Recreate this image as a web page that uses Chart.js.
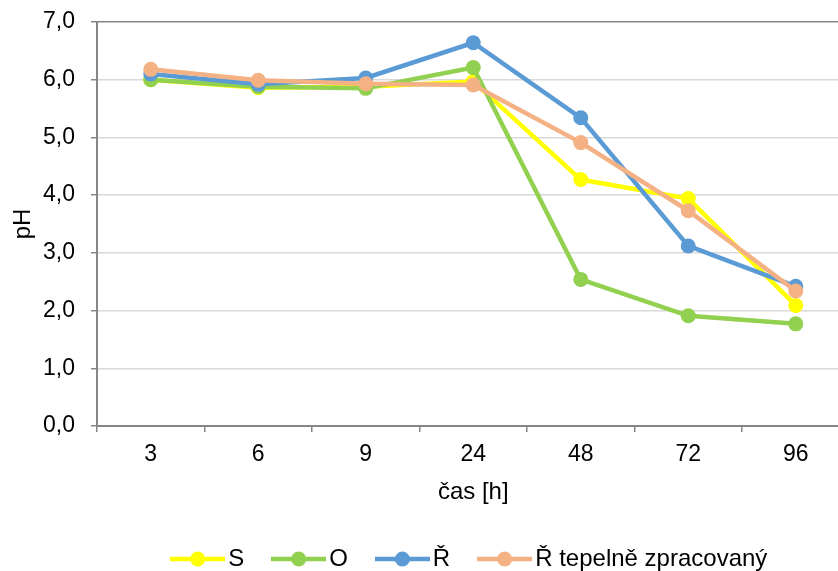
<!DOCTYPE html>
<html>
<head>
<meta charset="utf-8">
<script src="https://cdn.jsdelivr.net/npm/chart.js@4"></script>
<style>
  html, body { margin: 0; padding: 0; background: #fff; overflow: hidden; }
  #wrap { width: 870px; height: 571px; }
</style>
</head>
<body>
<div id="wrap"><canvas id="phChart" width="870" height="571"></canvas></div>
<script>
const labels = ["3", "6", "9", "24", "48", "72", "96"];
const seriesNames = ["S", "O", "Ř", "Ř tepelně zpracovaný"];
const valuesS = [6.0, 5.86, 5.88, 5.97, 4.27, 3.94, 2.09];
const valuesO = [6.0, 5.88, 5.85, 6.21, 2.54, 1.91, 1.77];
const valuesR = [6.1, 5.92, 6.03, 6.64, 5.34, 3.12, 2.42];
const valuesRT = [6.18, 5.99, 5.93, 5.91, 4.91, 3.73, 2.34];
const colors = ["#ffff00", "#92d050", "#5b9bd5", "#f4b183"];

const fontFamily = "'Liberation Sans', Arial, sans-serif";

// legend marker: line with a dot in the middle
function makeMarker(color) {
  const c = document.createElement("canvas");
  c.width = 55;
  c.height = 18;
  const g = c.getContext("2d");
  g.strokeStyle = color;
  g.lineWidth = 4.5;
  g.beginPath();
  g.moveTo(0, 9);
  g.lineTo(55, 9);
  g.stroke();
  g.fillStyle = color;
  g.beginPath();
  g.arc(27.5, 9, 7.5, 0, Math.PI * 2);
  g.fill();
  return c;
}

const markers = colors.map(makeMarker);

function makeDataset(i, data) {
  return {
    label: seriesNames[i],
    data: data,
    borderColor: colors[i],
    backgroundColor: colors[i],
    borderWidth: 4.5,
    pointRadius: 7.5,
    pointBorderWidth: 0,
    pointHoverRadius: 7.5,
    tension: 0,
    order: 4 - i,
  };
}

const ctx = document.getElementById("phChart").getContext("2d");
const phChart = new Chart(ctx, {
  type: "line",
  data: {
    labels: labels,
    datasets: [
      makeDataset(0, valuesS),
      makeDataset(1, valuesO),
      makeDataset(2, valuesR),
      makeDataset(3, valuesRT),
    ],
  },
  options: {
    responsive: false,
    animation: false,
    layout: { padding: { top: 22, left: 0, right: 20.5, bottom: -10 } },
    plugins: {
      tooltip: { enabled: false },
      legend: {
        position: "bottom",
        fullSize: false,
        labels: {
          usePointStyle: true,
          pointStyleWidth: 37,
          padding: 36,
          color: "#000",
          font: { family: fontFamily, size: 24 },
          generateLabels: (chart) =>
            chart.data.datasets.map((ds, i) => ({
              text: ds.label,
              pointStyle: markers[i],
              fillStyle: ds.borderColor,
              strokeStyle: ds.borderColor,
              lineWidth: 0,
              fontColor: "#000",
              datasetIndex: i,
              hidden: false,
            })),
        },
      },
    },
    scales: {
      x: {
        offset: true,
        afterFit: (scale) => {
          scale.height = 85;
        },
        border: { color: "#868686", width: 2 },
        grid: {
          offset: true,
          drawOnChartArea: false,
          tickLength: 6,
          color: "#868686",
          lineWidth: 1.5,
        },
        ticks: {
          color: "#000",
          padding: 9,
          font: { family: fontFamily, size: 23 },
        },
        title: {
          display: true,
          text: "čas [h]",
          color: "#000",
          padding: { top: 0, bottom: 7 },
          font: { family: fontFamily, size: 24, lineHeight: 1 },
        },
      },
      y: {
        min: 0,
        max: 7,
        afterFit: (scale) => {
          scale.width = 97;
          scale.paddingTop = 10;
          scale.paddingBottom = 10;
        },
        border: { color: "#868686", width: 2 },
        grid: {
          tickLength: 6,
          lineWidth: 1.5,
          color: (c) => (c.tick && c.tick.value === 7 ? "#868686" : "#d9d9d9"),
          tickColor: "#868686",
        },
        ticks: {
          stepSize: 1,
          color: "#000",
          padding: 16,
          font: { family: fontFamily, size: 23 },
          callback: (v) => v.toFixed(1).replace(".", ","),
        },
        title: {
          display: true,
          text: "pH",
          color: "#000",
          padding: { top: 11, bottom: 0 },
          font: { family: fontFamily, size: 24, lineHeight: 1 },
        },
      },
    },
  },
});
</script>
</body>
</html>
